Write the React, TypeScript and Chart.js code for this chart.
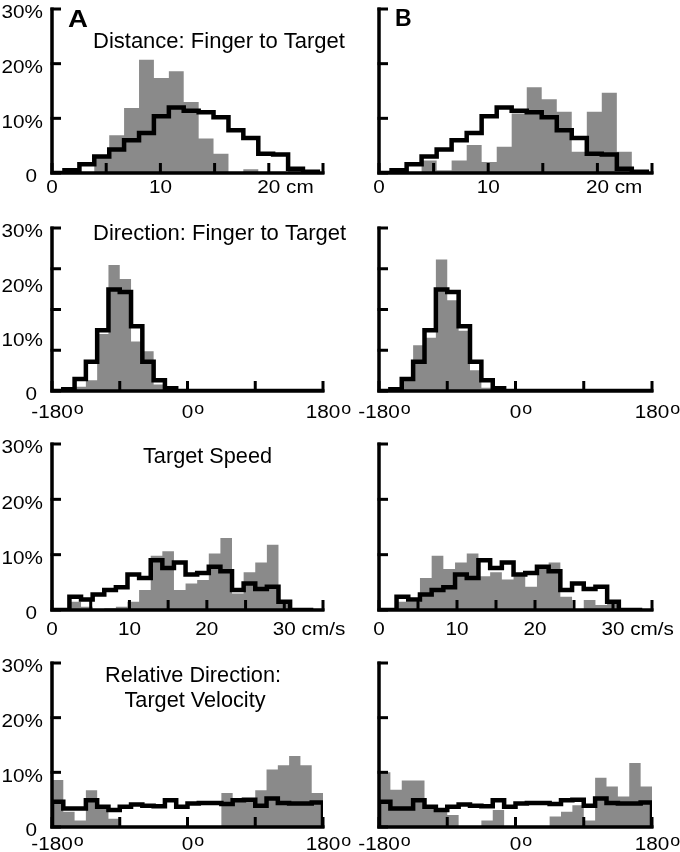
import React, { useEffect, useRef } from "react";
import { Chart, registerables } from "chart.js";

Chart.register(...registerables);

const GRAY = "#8a8a8a";
const FONT = "'Liberation Sans', Arial, Helvetica, sans-serif";

// ---------- Row 1: Distance: Finger to Target (cm)
const DIST_EDGES = [-0.23, 1.15, 2.53, 3.9, 5.28, 6.65, 8.03, 9.4, 10.78, 12.15, 13.53, 14.9, 16.28, 17.65, 19.03, 20.4, 21.78, 23.15, 24.53];
const DIST_EXPECTED = [0, 0.5, 1.6, 3.0, 4.3, 6.0, 7.3, 10.4, 12.0, 11.4, 11.1, 10.2, 7.8, 6.4, 3.5, 3.4, 0.8, 0.25];
const DIST_A = [0, 0, 0, 2.8, 6.9, 11.9, 20.7, 17.4, 18.6, 13.0, 6.3, 3.5, 0, 0.7, 0, 0, 0.5, 0];
const DIST_B = [0, 0, 0, 2.3, 0.5, 2.3, 5.1, 2.0, 4.8, 10.9, 15.7, 13.5, 11.2, 3.9, 11.2, 14.7, 3.9, 0];
const DIST_X_TICKS = [0, 5, 10, 15, 20, 25];
const DIST_X_LABEL_VALUES = [0, 10, 20];
const DIST_X_LABELS = ["0", "10", "20"];

// ---------- Row 2: Direction: Finger to Target (deg)
const ANGLE_EDGES = [-180, -165, -150, -135, -120, -105, -90, -75, -60, -45, -30, -15, 0, 15, 30, 45, 60, 75, 90, 105, 120, 135, 150, 165, 180];
const DIR_EXPECTED = [0, 0.3, 2.2, 5.4, 11.2, 18.7, 18.2, 11.9, 5.4, 2.0, 0.5, 0, 0, 0, 0, 0, 0, 0, 0, 0, 0, 0, 0, 0];
const DIR_A = [0, 0, 0.8, 2.0, 10.5, 23.2, 20.6, 9.1, 7.3, 1.2, 0, 0, 0, 0, 0, 0, 0, 0, 0, 0, 0, 0, 0, 0];
const DIR_B = [0, 0, 2.0, 8.4, 9.8, 24.2, 16.7, 11.1, 3.8, 0.6, 0, 0, 0, 0, 0, 0, 0, 0, 0, 0, 0, 0, 0, 0];
const ANGLE_X_TICKS = [-180, -90, 0, 90, 180];
const ANGLE_X_LABEL_VALUES = [-180, 0, 180];
const ANGLE_X_LABELS = ["-180", "0", "180"];

// ---------- Row 3: Target Speed (cm/s)
const SPEED_EDGES = [-0.75, 0.75, 2.25, 3.75, 5.25, 6.75, 8.25, 9.75, 11.25, 12.75, 14.25, 15.75, 17.25, 18.75, 20.25, 21.75, 23.25, 24.75, 26.25, 27.75, 29.25, 30.75, 32.25, 33.75];
const SPEED_EXPECTED = [0, 0, 2.4, 1.9, 2.8, 3.6, 4.1, 6.4, 5.8, 9.0, 7.6, 8.6, 6.4, 6.7, 7.8, 7.0, 3.6, 4.8, 3.8, 4.2, 1.5, 0, 0];
const SPEED_A = [0, 0, 1.5, 0.6, 0, 0.3, 0.6, 1.5, 3.6, 9.8, 10.6, 3.6, 4.8, 5.4, 10.2, 13.0, 3.0, 6.8, 8.6, 11.8, 1.8, 0.3, 0];
const SPEED_B = [0, 0, 1.5, 1.5, 5.8, 9.8, 7.4, 8.6, 10.2, 6.1, 6.8, 5.5, 6.1, 4.2, 7.5, 8.6, 2.4, 0, 1.8, 0.9, 1.3, 0, 0];
const SPEED_X_TICKS = [0, 5, 10, 15, 20, 25, 30, 35];
const SPEED_X_LABEL_VALUES = [0, 10, 20, 30];
const SPEED_X_LABELS = ["0", "10", "20", "30"];

// ---------- Row 4: Relative Direction: Target Velocity (deg)
const REL_EXPECTED = [4.6, 3.4, 3.4, 4.9, 3.7, 3.1, 3.7, 4.1, 3.9, 3.8, 4.9, 3.7, 4.3, 4.4, 4.4, 4.2, 4.9, 5.0, 3.9, 5.2, 4.4, 4.3, 4.3, 4.5];
const REL_A = [8.6, 2.8, 1.2, 6.7, 3.7, 1.5, 0, 0, 0, 0, 0, 0, 0, 0, 0, 6.2, 5.2, 4.6, 6.7, 10.5, 11.3, 13.0, 11.3, 6.2];
const REL_B = [10.0, 6.8, 8.5, 8.5, 3.7, 2.8, 2.2, 0, 0, 1.2, 3.1, 0, 0, 0, 0, 1.9, 2.8, 4.0, 1.2, 9.0, 7.4, 5.6, 11.7, 7.4];

// ---------- Y axis
const Y_LABEL_VALUES = [0, 10, 20, 30];
const Y_LABELS = ["0", "10%", "20%", "30%"];
const Y_TICKS = [0, 10, 20, 30];
const Y_TICKS_DIR = [0, 7.5, 15, 22.5, 30];

type TextSpec = { text: string; x: number; y: number; size: number; align: CanvasTextAlign; bold?: boolean; sx?: number };

type PanelSpec = {
  key: string;
  left: number; top: number; width: number; height: number;
  area: { l: number; r: number; t: number; b: number };
  xMin: number; xMax: number;
  edges: number[]; expected: number[]; observed: number[];
  xTicks: number[]; yTicks: number[];
  xLabelValues: number[]; xLabels: string[];
  unit: string; unitMode: "last" | "sup";
  xLabelBaseline: number;
  yLabels: boolean;
  texts: TextSpec[];
};

const COL_L = { left: 0, width: 360, l: 52, r: 323 };
const COL_R = { left: 340, width: 340, l: 379, r: 652 };
const ROWS = [
  { top: 0, height: 212, t: 9, b: 173, base: 193 },
  { top: 200, height: 230, t: 228, b: 391, base: 418 },
  { top: 415, height: 232, t: 444, b: 610, base: 635 },
  { top: 632, height: 220, t: 663, b: 827, base: 850 },
];

function mk(col: typeof COL_L, ri: number, rest: Omit<PanelSpec, "left" | "top" | "width" | "height" | "area" | "xLabelBaseline" | "yLabels">, yLabels: boolean): PanelSpec {
  const row = ROWS[ri];
  return {
    ...rest,
    left: col.left, width: col.width, top: row.top, height: row.height,
    area: { l: col.l, r: col.r, t: row.t, b: row.b },
    xLabelBaseline: row.base,
    yLabels,
  };
}

const distCommon = { xMin: 0, xMax: 25, edges: DIST_EDGES, expected: DIST_EXPECTED, xTicks: DIST_X_TICKS, yTicks: Y_TICKS, xLabelValues: DIST_X_LABEL_VALUES, xLabels: DIST_X_LABELS, unit: " cm", unitMode: "last" as const };
const dirCommon = { xMin: -180, xMax: 180, edges: ANGLE_EDGES, expected: DIR_EXPECTED, xTicks: ANGLE_X_TICKS, yTicks: Y_TICKS_DIR, xLabelValues: ANGLE_X_LABEL_VALUES, xLabels: ANGLE_X_LABELS, unit: "o", unitMode: "sup" as const };
const speedCommon = { xMin: 0, xMax: 35, edges: SPEED_EDGES, expected: SPEED_EXPECTED, xTicks: SPEED_X_TICKS, yTicks: Y_TICKS, xLabelValues: SPEED_X_LABEL_VALUES, xLabels: SPEED_X_LABELS, unit: " cm/s", unitMode: "last" as const };
const relCommon = { xMin: -180, xMax: 180, edges: ANGLE_EDGES, expected: REL_EXPECTED, xTicks: ANGLE_X_TICKS, yTicks: Y_TICKS, xLabelValues: ANGLE_X_LABEL_VALUES, xLabels: ANGLE_X_LABELS, unit: "o", unitMode: "sup" as const };

const PANELS: PanelSpec[] = [
  mk(COL_L, 0, { key: "a1", ...distCommon, observed: DIST_A, texts: [
    { text: "A", x: 68, y: 27, size: 23, align: "left", bold: true, sx: 1.2 },
    { text: "Distance: Finger to Target", x: 93, y: 48, size: 22, align: "left" },
  ] }, true),
  mk(COL_R, 0, { key: "b1", ...distCommon, observed: DIST_B, texts: [
    { text: "B", x: 395, y: 26, size: 23, align: "left", bold: true, sx: 1.0 },
  ] }, false),
  mk(COL_L, 1, { key: "a2", ...dirCommon, observed: DIR_A, texts: [
    { text: "Direction: Finger to Target", x: 93, y: 240, size: 22, align: "left" },
  ] }, true),
  mk(COL_R, 1, { key: "b2", ...dirCommon, observed: DIR_B, texts: [] }, false),
  mk(COL_L, 2, { key: "a3", ...speedCommon, observed: SPEED_A, texts: [
    { text: "Target Speed", x: 143, y: 463, size: 21.7, align: "left" },
  ] }, true),
  mk(COL_R, 2, { key: "b3", ...speedCommon, observed: SPEED_B, texts: [] }, false),
  mk(COL_L, 3, { key: "a4", ...relCommon, observed: REL_A, texts: [
    { text: "Relative Direction:", x: 193, y: 682, size: 21.7, align: "center" },
    { text: "Target Velocity", x: 195, y: 707, size: 21.7, align: "center" },
  ] }, true),
  mk(COL_R, 3, { key: "b4", ...relCommon, observed: REL_B, texts: [] }, false),
];

function stepPoints(edges: number[], vals: number[]) {
  const pts: { x: number; y: number }[] = [{ x: edges[0], y: 0 }];
  vals.forEach((v, i) => pts.push({ x: edges[i], y: v }));
  pts.push({ x: edges[vals.length], y: 0 });
  return pts;
}

function setFont(ctx: CanvasRenderingContext2D, size: number, bold?: boolean) {
  ctx.font = `${bold ? "bold " : ""}${size}px ${FONT}`;
}

function drawText(ctx: CanvasRenderingContext2D, s: string, x: number, y: number, size: number, align: CanvasTextAlign, bold = false, sx = 1) {
  ctx.save();
  setFont(ctx, size, bold);
  ctx.textAlign = align;
  ctx.textBaseline = "alphabetic";
  ctx.fillStyle = "#000";
  ctx.translate(x, y);
  ctx.scale(sx, 1);
  ctx.fillText(s, 0, 0);
  ctx.restore();
}

function textWidth(ctx: CanvasRenderingContext2D, s: string, size: number, bold = false, sx = 1) {
  ctx.save();
  setFont(ctx, size, bold);
  const w = ctx.measureText(s).width * sx;
  ctx.restore();
  return w;
}

const TICK_FONT = 18;
const TICK_SX = 1.15;

function axesPlugin(p: PanelSpec) {
  return {
    id: "customAxes_" + p.key,
    afterDraw(chart: any) {
      const ctx: CanvasRenderingContext2D = chart.ctx;
      const { left: L, right: R, top: T, bottom: B } = chart.chartArea;
      const xs = chart.scales.x;
      const ys = chart.scales.y;
      ctx.save();
      ctx.strokeStyle = "#000";
      ctx.lineCap = "butt";
      ctx.lineJoin = "miter";
      ctx.lineWidth = 3.5;
      ctx.beginPath();
      ctx.moveTo(L, T - 1.5);
      ctx.lineTo(L, B);
      ctx.lineTo(R + 1.5, B);
      ctx.stroke();
      ctx.lineWidth = 3;
      for (const v of p.yTicks) {
        const py = ys.getPixelForValue(v);
        ctx.beginPath();
        ctx.moveTo(L - 1.5, py);
        ctx.lineTo(L + 9, py);
        ctx.stroke();
      }
      for (const v of p.xTicks) {
        const px = xs.getPixelForValue(v);
        ctx.beginPath();
        ctx.moveTo(px, B + 1);
        ctx.lineTo(px, B - 10);
        ctx.stroke();
      }
      ctx.restore();

      // x tick labels
      const baseY = p.xLabelBaseline - p.top;
      p.xLabelValues.forEach((v, i) => {
        const label = p.xLabels[i];
        const px = xs.getPixelForValue(v);
        const w = textWidth(ctx, label, TICK_FONT, false, TICK_SX);
        const sx0 = px - w / 2;
        drawText(ctx, label, sx0, baseY, TICK_FONT, "left", false, TICK_SX);
        if (p.unitMode === "sup") {
          drawText(ctx, p.unit, sx0 + w + 1, baseY - 4.5, 17, "left", false, 1.05);
        } else if (i === p.xLabelValues.length - 1) {
          drawText(ctx, p.unit, sx0 + w, baseY, TICK_FONT, "left", false, TICK_SX);
        }
      });

      // y tick labels
      if (p.yLabels) {
        Y_LABEL_VALUES.forEach((v, i) => {
          const label = Y_LABELS[i];
          const py = ys.getPixelForValue(v);
          const rx = (label === "0" ? 37 : 43) - p.left;
          drawText(ctx, label, rx, py + 3 + 6.4, TICK_FONT, "right", false, TICK_SX);
        });
      }

      for (const t of p.texts) {
        drawText(ctx, t.text, t.x - p.left, t.y - p.top, t.size, t.align, !!t.bold, t.sx ?? 1);
      }
    },
  };
}

function Panel({ spec }: { spec: PanelSpec }) {
  const ref = useRef<HTMLCanvasElement>(null);
  useEffect(() => {
    if (!ref.current) return;
    const p = spec;
    const chart = new Chart(ref.current, {
      type: "line",
      data: {
        datasets: [
          {
            data: stepPoints(p.edges, p.expected),
            borderColor: "#000",
            borderWidth: 4.5,
            stepped: "before",
            fill: false,
            pointRadius: 0,
            borderJoinStyle: "miter",
            borderCapStyle: "butt",
            order: 0,
          } as any,
          {
            data: stepPoints(p.edges, p.observed),
            borderColor: "rgba(0,0,0,0)",
            borderWidth: 0,
            backgroundColor: GRAY,
            stepped: "before",
            fill: "origin",
            pointRadius: 0,
            order: 1,
          } as any,
        ],
      },
      options: {
        animation: false,
        responsive: false,
        events: [],
        layout: {
          padding: {
            left: p.area.l - p.left,
            right: p.left + p.width - p.area.r,
            top: p.area.t - p.top,
            bottom: p.top + p.height - p.area.b,
          },
        },
        scales: {
          x: { type: "linear", min: p.xMin, max: p.xMax, display: false },
          y: { type: "linear", min: 0, max: 30, display: false },
        },
        plugins: { legend: { display: false }, tooltip: { enabled: false }, title: { display: false } },
      },
      plugins: [axesPlugin(p)],
    });
    return () => chart.destroy();
  }, [spec]);
  return (
    <canvas
      ref={ref}
      width={spec.width}
      height={spec.height}
      style={{ position: "absolute", left: spec.left, top: spec.top, width: spec.width, height: spec.height }}
    />
  );
}

export default function App() {
  return (
    <div style={{ position: "fixed", left: 0, top: 0, width: 680, height: 852, background: "#fff", overflow: "hidden" }}>
      {PANELS.map((p) => (
        <Panel key={p.key} spec={p} />
      ))}
    </div>
  );
}
